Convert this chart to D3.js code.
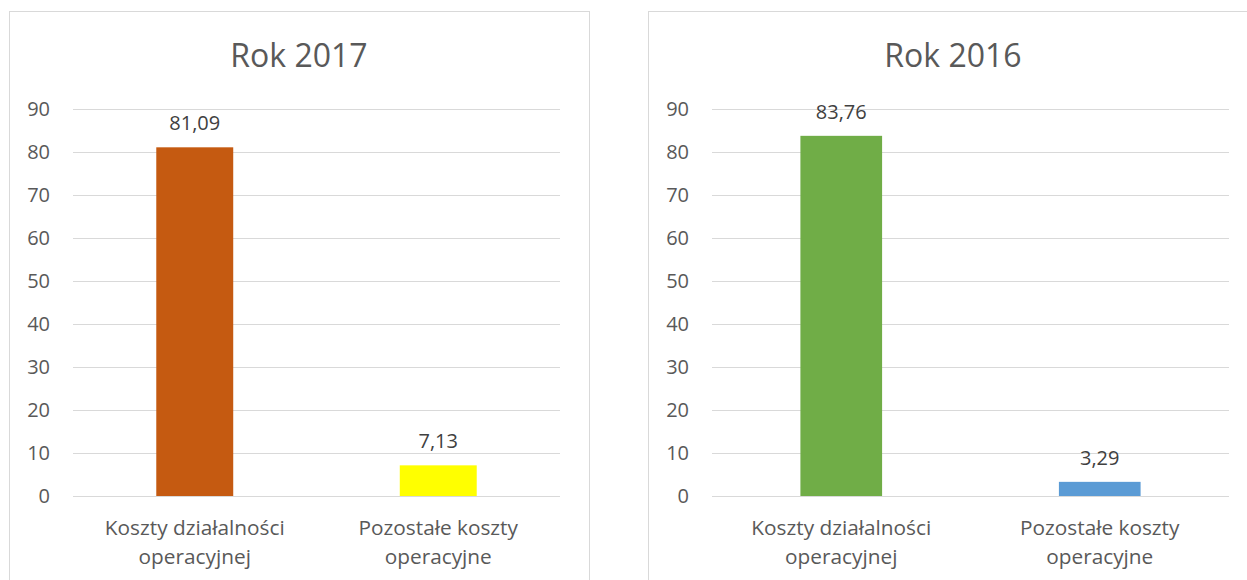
<!DOCTYPE html>
<html>
<head>
<meta charset="utf-8">
<script src="https://cdn.jsdelivr.net/npm/d3@7"></script>
<style>
    body { margin: 0; background: #fff; }
    svg { display: block; font-family: "Open Sans", sans-serif; }
</style>
</head>
<body>
<svg id="chart" width="1247" height="580"></svg>
<script>
const categories = ['Koszty działalności operacyjnej', 'Pozostałe koszty operacyjne'];
const categoryLines = [['Koszty działalności', 'operacyjnej'], ['Pozostałe koszty', 'operacyjne']];
const titles = ['Rok 2017', 'Rok 2016'];
const values2017 = [81.09, 7.13];
const values2016 = [83.76, 3.29];
const colors2017 = ['#C55A11', '#FFFF00'];
const colors2016 = ['#70AD47', '#5B9BD5'];
const yTicks = [0, 10, 20, 30, 40, 50, 60, 70, 80, 90];

// polish number format: 81,09
const pl = d3.formatLocale({decimal: ',', thousands: ' ', grouping: [3], currency: ['', ' zł']});
const fmt = pl.format('.2f');

const svg = d3.select('#chart');
svg.append('rect').attr('width', 1247).attr('height', 580).attr('fill', '#fff');

const panels = [
    {x: 9, w: 580, title: titles[0], values: values2017, colors: colors2017},
    {x: 648, w: 610, title: titles[1], values: values2016, colors: colors2016}
];

const margin = {top: 109, right: 29, bottom: 84, left: 64};
const panelTop = 11;
const panelHeight = 600;

panels.forEach(p => {
    const g = svg.append('g').attr('transform', `translate(${p.x},${panelTop})`);

    g.append('rect')
        .attr('x', 0.5).attr('y', 0.5)
        .attr('width', p.w).attr('height', panelHeight)
        .attr('fill', '#fff')
        .attr('stroke', '#d9d9d9')
        .attr('stroke-width', 1);

    const plotW = p.w - margin.left - margin.right;
    const x = d3.scaleBand().domain(categories).range([0, plotW]).paddingInner(0.684).paddingOuter(0.342);
    const y = d3.scaleLinear().domain([0, 90]).range([485, 98]);

    const plot = g.append('g').attr('transform', `translate(${margin.left},0)`);

    plot.selectAll('.grid')
        .data(yTicks)
        .enter().append('line')
        .attr('x1', 0).attr('x2', plotW)
        .attr('y1', d => Math.round(y(d)) + 0.5)
        .attr('y2', d => Math.round(y(d)) + 0.5)
        .attr('stroke', '#d9d9d9')
        .attr('stroke-width', 1);

    plot.selectAll('.ytick')
        .data(yTicks)
        .enter().append('text')
        .attr('x', -23)
        .attr('y', d => y(d))
        .attr('dy', '0.36em')
        .attr('text-anchor', 'end')
        .attr('font-size', '20px')
        .attr('fill', '#595959')
        .text(d => d);

    plot.selectAll('.bar')
        .data(p.values)
        .enter().append('rect')
        .attr('x', (d, i) => x(categories[i]))
        .attr('y', d => y(d))
        .attr('width', x.bandwidth())
        .attr('height', d => y(0) - y(d))
        .attr('fill', (d, i) => p.colors[i]);

    plot.selectAll('.val')
        .data(p.values)
        .enter().append('text')
        .attr('x', (d, i) => x(categories[i]) + x.bandwidth() / 2)
        .attr('y', d => y(d) - 17)
        .attr('text-anchor', 'middle')
        .attr('font-size', '20px')
        .attr('fill', '#404040')
        .text(d => fmt(d));

    categoryLines.forEach((lines, i) => {
        const t = plot.append('text')
            .attr('text-anchor', 'middle')
            .attr('font-size', '20.8px')
            .attr('fill', '#595959');
        lines.forEach((ln, j) => {
            t.append('tspan')
                .attr('x', x(categories[i]) + x.bandwidth() / 2)
                .attr('y', 524 + j * 29)
                .text(ln);
        });
    });

    g.append('text')
        .attr('x', p.w / 2)
        .attr('y', 56)
        .attr('text-anchor', 'middle')
        .attr('font-size', '32px')
        .attr('fill', '#595959')
        .text(p.title);
});
</script>
</body>
</html>
